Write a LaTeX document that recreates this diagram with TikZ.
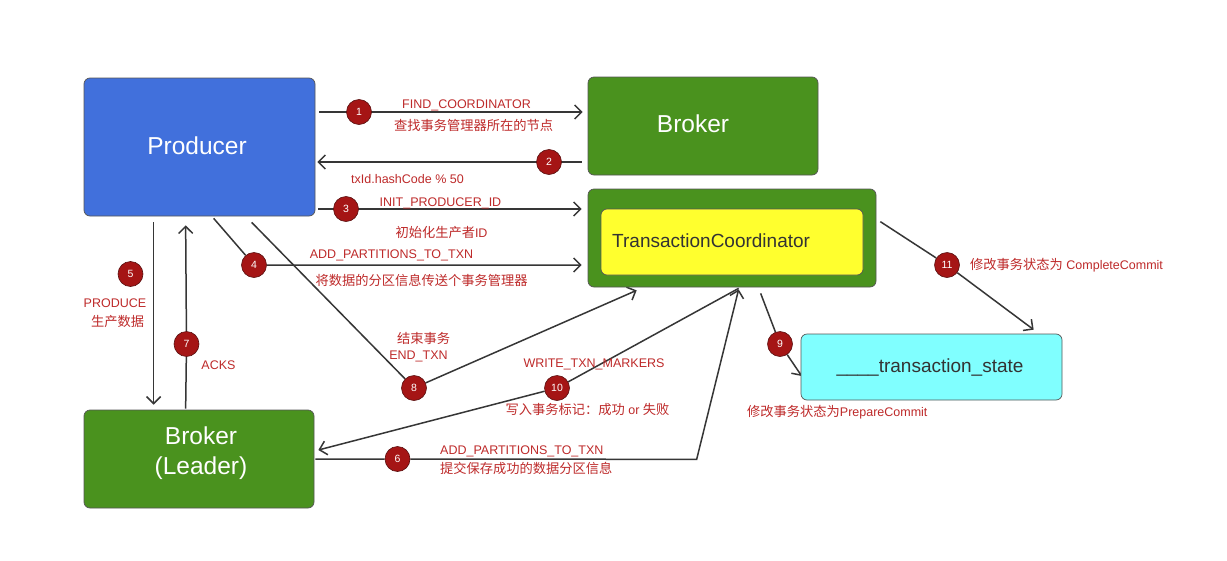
\documentclass[tikz,border=0pt]{standalone}
\usepackage{fontspec}
\setmainfont{Liberation Sans}
\newfontfamily\cjk[Scale=1.06]{Noto Sans CJK SC}
\usetikzlibrary{arrows.meta,calc}
\pgfdeclarelayer{bg}
\pgfsetlayers{bg,main}
\definecolor{prodblue}{HTML}{4170DC}
\definecolor{brkgreen}{HTML}{4A921E}
\definecolor{tcyellow}{HTML}{FFFF2E}
\definecolor{stcyan}{HTML}{80FFFF}
\definecolor{numred}{HTML}{A51515}
\definecolor{numedge}{HTML}{5A1010}
\definecolor{lblred}{HTML}{BE2A2A}
\definecolor{linegray}{HTML}{363636}
\definecolor{boxedge}{HTML}{555555}
\tikzset{
  box/.style={draw=boxedge, line width=0.7pt, rounded corners=6pt, inner sep=0pt},
  wtext/.style={text=white, font=\fontsize{24.5}{30}\selectfont, align=center, inner sep=0pt},
  dtext/.style={text=black!80, font=\fontsize{19}{23}\selectfont, inner sep=0pt},
  num/.style={circle, fill=numred, draw=numedge, line width=0.6pt, minimum size=25pt, inner sep=0pt, text=white, font=\fontsize{10.5}{12}\selectfont},
  lbl/.style={text=lblred, font=\fontsize{12.5}{15}\selectfont, inner sep=0pt},
  conn/.style={draw=linegray, line width=1.5pt},
  arr/.style={conn, -{Straight Barb[length=7pt,width=14pt]}}
}
\begin{document}
\begin{tikzpicture}[x=1pt,y=-1pt]
\begin{pgfonlayer}{bg}
\fill[white] (0,0) rectangle (1227,560);
\end{pgfonlayer}
\useasboundingbox (0,0) rectangle (1227,560);

% boxes
\node[box, fill=prodblue, minimum width=231pt, minimum height=138pt] (prod) at (199.5,147) {};
\node[wtext] (prodtxt) at (197,146) {Producer};
\node[box, fill=brkgreen, minimum width=230pt, minimum height=98pt] (brk) at (703,126) {};
\node[wtext] (brktxt) at (693,124) {Broker};
\node[box, fill=brkgreen, minimum width=288pt, minimum height=98pt] (tc) at (732,238) {};
\node[box, fill=tcyellow, minimum width=262pt, minimum height=66pt] (tci) at (732,242) {};
\node[dtext, anchor=west] (tctxt) at (612,241) {TransactionCoordinator};
\node[box, fill=stcyan, minimum width=261pt, minimum height=66pt] (st) at (931.5,367) {};
\node[dtext] (sttxt) at (930,367) {\_\_\_\_transaction\_state};
\node[box, fill=brkgreen, minimum width=230pt, minimum height=98pt] (ldr) at (199,459) {};
\node[wtext] (ldrtxt) at (201,453) {Broker\\(Leader)};

% numbered circles
\node[num] (n1) at (359,112) {1};
\node[num] (n2) at (549,162) {2};
\node[num] (n3) at (346,209) {3};
\node[num] (n4) at (254,265) {4};
\node[num] (n5) at (130.5,274) {5};
\node[num] (n6) at (397.5,459) {6};
\node[num] (n7) at (186.5,344) {7};
\node[num] (n8) at (414,388) {8};
\node[num] (n9) at (780,344) {9};
\node[num] (n10) at (557,388) {10};
\node[num] (n11) at (947,265) {11};

% connectors
\begin{pgfonlayer}{bg}
\draw[arr, shorten <=4pt, shorten >=5pt] (prod.east |- n1) -- (brk.west |- n1);
\draw[arr, shorten <=6pt, shorten >=2pt] (brk.west |- n2) -- (prod.east |- n2);
\draw[arr, shorten <=3pt, shorten >=6pt] (prod.east |- n3) -- (tc.west |- n3);
\draw[arr, shorten >=6pt] ($(prod.south west)+(130,2)$) -- (n4) -- (tc.west |- n4);
\draw[arr] ($(prod.south west)+(70,6)$) -- ($(ldr.north west)+(70,-5)$);
\draw[arr] ($(ldr.north west)+(102,-1)$) -- (n7) -- ($(prod.south west)+(102,9)$);
\draw[arr] ($(prod.south west)+(168,6)$) -- (n8) -- ($(tc.south west)+(49,3)$);
\draw[conn] ($(tc.south west)+(151,1)$) -- (n10);
\draw[arr] (n10) -- ($(ldr.east)+(4,-9)$);
\draw[arr] ($(ldr.east |- n6)+(1,0)$) -- (n6) -- ($(tc.south west)+(109,172)$) -- ($(tc.south west)+(151,2)$);
\draw[arr] ($(tc.south west)+(173,6)$) -- (n9) -- ($(st.west)+(1,9)$);
\draw[arr] ($(tc.north east)+(4,33)$) -- (n11) -- ($(st.north west)+(233,-4)$);
\end{pgfonlayer}

% labels
\node[lbl] (l1a) at (466.5,105.5) {FIND\_COORDINATOR};
\node[lbl] (l1b) at (473.5,125) {\cjk 查找事务管理器所在的节点};
\node[lbl] (l2) at (407.5,179) {txId.hashCode \% 50};
\node[lbl] (l3a) at (440.5,203) {INIT\_PRODUCER\_ID};
\node[lbl] (l3b) at (441.5,233) {{\cjk 初始化生产者}ID};
\node[lbl] (l4a) at (391.5,255) {ADD\_PARTITIONS\_TO\_TXN};
\node[lbl] (l4b) at (421.5,280.5) {\cjk 将数据的分区信息传送个事务管理器};
\node[lbl] (l5a) at (115,303) {PRODUCE};
\node[lbl] (l5b) at (117.5,321) {\cjk 生产数据};
\node[lbl] (l7) at (218.5,365) {ACKS};
\node[lbl] (l8a) at (423.5,338) {\cjk 结束事务};
\node[lbl] (l8b) at (418.5,356) {END\_TXN};
\node[lbl] (l10a) at (594,364) {WRITE\_TXN\_MARKERS};
\node[lbl] (l10b) at (587.5,409) {{\cjk 写入事务标记：成功} or {\cjk 失败}};
\node[lbl, anchor=west] (l6a) at (440,451) {ADD\_PARTITIONS\_TO\_TXN};
\node[lbl, anchor=west] (l6b) at (440,468.5) {\cjk 提交保存成功的数据分区信息};
\node[lbl, anchor=west] (l9) at (747,412.5) {{\cjk 修改事务状态为}PrepareCommit};
\node[lbl, anchor=west] (l11) at (970,265) {{\cjk 修改事务状态为} CompleteCommit};
\end{tikzpicture}
\end{document}
